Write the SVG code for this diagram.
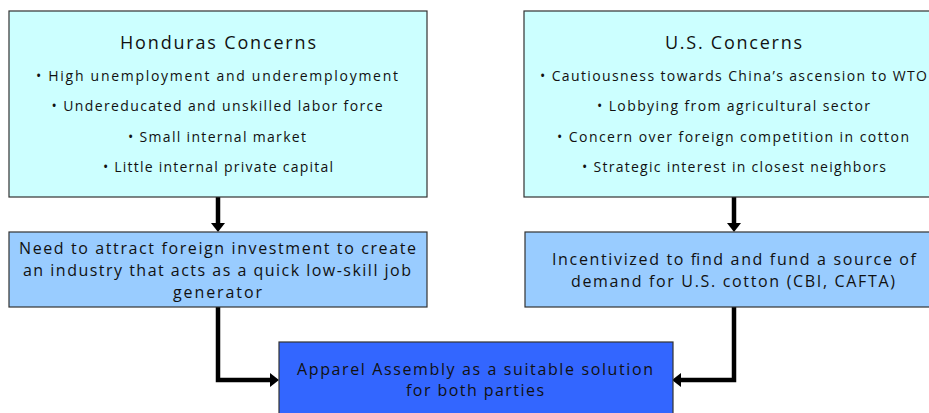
<svg xmlns="http://www.w3.org/2000/svg" width="929" height="413" viewBox="0 0 929 413">
<defs>
<marker id="ah" markerUnits="userSpaceOnUse" markerWidth="9" markerHeight="14" refX="0" refY="7" orient="auto" overflow="visible">
<path d="M0,0 L9,7 L0,14 Z" fill="#000"/>
</marker>
<style>
.box{stroke:#333;stroke-width:1.2}
.c1{fill:#CCFFFF}
.c2{fill:#99CCFF}
.c3{fill:#3366FF}
text{font-family:"Open Sans","DejaVu Sans",sans-serif;fill:#111;text-anchor:middle}
.t{font-size:18px}
.b{font-size:14px}
.m{font-size:16px}
.conn{fill:none;stroke:#000;stroke-width:4.5;stroke-linejoin:miter}
</style>
</defs>
<rect width="929" height="413" fill="#fff"/>
<g id="connectors">
<path class="conn" d="M218,197 V223" marker-end="url(#ah)"/>
<path class="conn" d="M734,197 V223" marker-end="url(#ah)"/>
<path class="conn" d="M218,307 V380 H270" marker-end="url(#ah)"/>
<path class="conn" d="M734,307 V380 H681" marker-end="url(#ah)"/>
</g>
<g id="honduras">
<rect class="box c1" x="9" y="11" width="418" height="186"/>
<text class="t" x="218" y="49" textLength="196" lengthAdjust="spacing">Honduras Concerns</text>
<text class="b" x="217" y="81" textLength="362" lengthAdjust="spacing">• High unemployment and underemployment</text>
<text class="b" x="217" y="111" textLength="331" lengthAdjust="spacing">• Undereducated and unskilled labor force</text>
<text class="b" x="217" y="142" textLength="178" lengthAdjust="spacing">• Small internal market</text>
<text class="b" x="218" y="172" textLength="230" lengthAdjust="spacing">• Little internal private capital</text>
</g>
<g id="us">
<rect class="box c1" x="524" y="11" width="420" height="186"/>
<text class="t" x="733.5" y="49" textLength="137" lengthAdjust="spacing">U.S. Concerns</text>
<text class="b" x="733.5" y="81" textLength="387" lengthAdjust="spacing">• Cautiousness towards China’s ascension to WTO</text>
<text class="b" x="733.5" y="111" textLength="273" lengthAdjust="spacing">• Lobbying from agricultural sector</text>
<text class="b" x="733" y="142" textLength="352" lengthAdjust="spacing">• Concern over foreign competition in cotton</text>
<text class="b" x="734" y="172" textLength="304" lengthAdjust="spacing">• Strategic interest in closest neighbors</text>
</g>
<g id="need">
<rect class="box c2" x="9" y="232" width="418" height="75"/>
<text class="m" x="217.5" y="254" textLength="397" lengthAdjust="spacing">Need to attract foreign investment to create</text>
<text class="m" x="217" y="276" textLength="388" lengthAdjust="spacing">an industry that acts as a quick low-skill job</text>
<text class="m" x="217.5" y="298" textLength="89" lengthAdjust="spacing">generator</text>
</g>
<g id="incentivized">
<rect class="box c2" x="525" y="232" width="420" height="75"/>
<text class="m" x="734" y="265" textLength="364" lengthAdjust="spacing">Incentivized to find and fund a source of</text>
<text class="m" x="733" y="287" textLength="324" lengthAdjust="spacing">demand for U.S. cotton (CBI, CAFTA)</text>
</g>
<g id="apparel">
<rect class="box c3" x="279" y="342" width="394" height="80"/>
<text class="m" x="475" y="375" textLength="356" lengthAdjust="spacing">Apparel Assembly as a suitable solution</text>
<text class="m" x="475" y="396" textLength="138" lengthAdjust="spacing">for both parties</text>
</g>
</svg>
